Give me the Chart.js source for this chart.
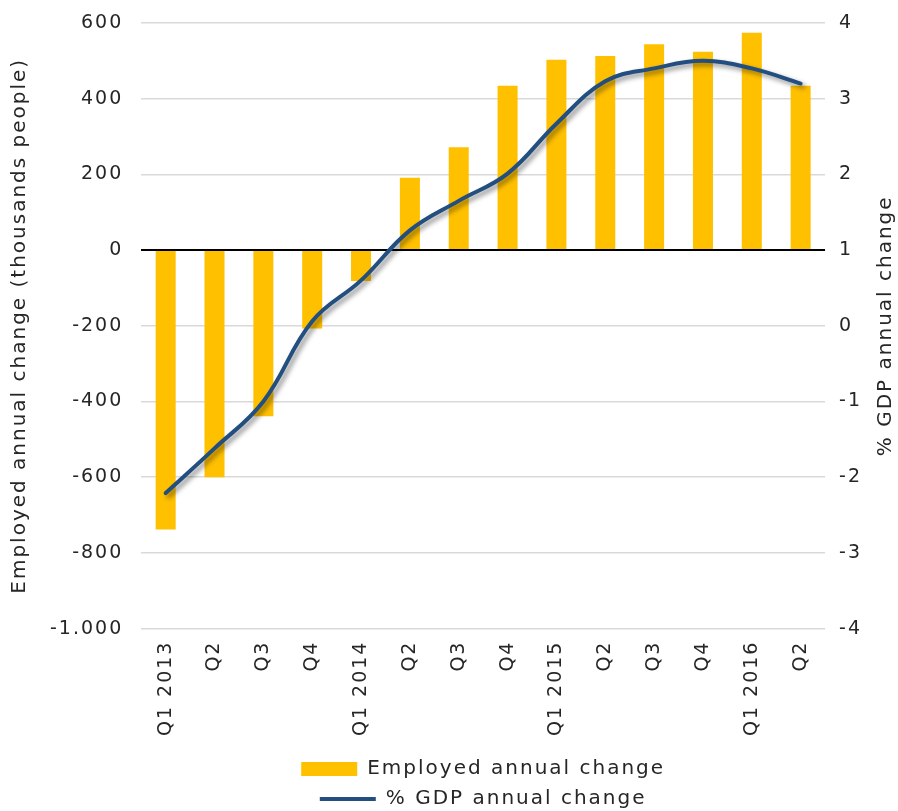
<!DOCTYPE html>
<html>
<head>
<meta charset="utf-8">
<script src="https://cdn.jsdelivr.net/npm/chart.js@4/dist/chart.umd.min.js"></script>
<style>
  html, body { margin: 0; padding: 0; background: #fff; }
  #wrap { width: 898px; height: 811px; }
</style>
</head>
<body>
<div id="wrap"><canvas id="emp-gdp-canv"></canvas></div>
<script>
const quarters = ['Q1 2013', 'Q2', 'Q3', 'Q4', 'Q1 2014', 'Q2', 'Q3', 'Q4',
                  'Q1 2015', 'Q2', 'Q3', 'Q4', 'Q1 2016', 'Q2'];
const employedChange = [-738, -600, -439, -207, -82, 191, 272, 434,
                        503, 513, 544, 524, 574, 434];
const gdpChange = [-2.21, -1.62, -1.0, 0.06, 0.6, 1.26, 1.65, 2.01,
                   2.67, 3.23, 3.40, 3.50, 3.40, 3.20];

const amber = '#FFC000';
const navy = '#224E80';
const fontFamily = "'DejaVu Sans', sans-serif";
const textColor = '#262626';
const spacing = '2px';

// Excel style thousands separator: -1.000
const fmtThousands = (v) => {
    const s = Math.abs(v).toString().replace(/\B(?=(\d{3})+(?!\d))/g, '.');
    return (v < 0 ? '-' : '') + s;
};

// widen the text a little, the original font is a wide geometric one
const wideText = {
    id: 'wideText',
    beforeUpdate(chart) { chart.ctx.letterSpacing = spacing; },
    beforeDraw(chart) { chart.ctx.letterSpacing = spacing; }
};

// soft drop shadow under the GDP line
const lineShadow = {
    id: 'lineShadow',
    beforeDatasetDraw(chart, args) {
        if (args.meta.type !== 'line') return;
        const ctx = chart.ctx;
        ctx.save();
        ctx.shadowColor = 'rgba(0,0,0,0.45)';
        ctx.shadowBlur = 5;
        ctx.shadowOffsetX = 3;
        ctx.shadowOffsetY = 3;
    },
    afterDatasetDraw(chart, args) {
        if (args.meta.type !== 'line') return;
        chart.ctx.restore();
    }
};

// right axis title reading bottom to top, like the left one
const rightTitle = {
    id: 'rightTitle',
    afterDraw(chart) {
        const ctx = chart.ctx;
        const area = chart.chartArea;
        ctx.save();
        ctx.translate(chart.width - 12, (area.top + area.bottom) / 2);
        ctx.rotate(-Math.PI / 2);
        ctx.font = '20px ' + fontFamily;
        ctx.fillStyle = textColor;
        ctx.textAlign = 'center';
        ctx.textBaseline = 'middle';
        ctx.fillText('% GDP annual change', 0, 0);
        ctx.restore();
    }
};

// keep the tick padding from pushing the plot down
const tightY = (scale) => {
    scale.paddingTop = 12;
    scale.paddingBottom = 12;
};

const data = {
    labels: quarters,
    datasets: [
        {
            type: 'bar',
            label: 'Employed annual change',
            data: employedChange,
            yAxisID: 'y',
            backgroundColor: amber,
            borderWidth: 0,
            pointStyle: 'rect',
            barPercentage: 0.41,
            categoryPercentage: 1,
            order: 1
        },
        {
            type: 'line',
            label: '% GDP annual change',
            data: gdpChange,
            yAxisID: 'y1',
            borderColor: navy,
            backgroundColor: navy,
            borderWidth: 4,
            borderCapStyle: 'round',
            pointStyle: 'line',
            pointRadius: 0,
            tension: 0.4,
            order: 0
        }
    ]
};

const config = {
    type: 'bar',
    data,
    options: {
        responsive: true,
        maintainAspectRatio: false,
        animation: false,
        layout: {
            padding: { left: 0, right: 22, top: 23, bottom: -8 }
        },
        scales: {
            x: {
                grid: { display: false, drawTicks: false },
                border: { display: false },
                ticks: {
                    color: textColor,
                    font: { size: 19, family: fontFamily },
                    minRotation: 90,
                    maxRotation: 90,
                    autoSkip: false,
                    padding: 12
                },
                afterFit: (scale) => { scale.height += 1; }
            },
            y: {
                position: 'left',
                min: -1000,
                max: 600,
                border: { display: false },
                grid: {
                    color: (c) => c.tick && c.tick.value === 0 ? '#000' : '#D9D9D9',
                    lineWidth: (c) => c.tick && c.tick.value === 0 ? 2 : 1.5,
                    drawTicks: false
                },
                ticks: {
                    stepSize: 200,
                    color: textColor,
                    padding: 18,
                    font: { size: 19, family: fontFamily },
                    callback: (v) => fmtThousands(v)
                },
                title: {
                    display: true,
                    text: 'Employed annual change (thousands people)',
                    color: textColor,
                    font: { size: 20, family: fontFamily },
                    padding: { top: 8, bottom: 0 }
                },
                afterFit: tightY
            },
            y1: {
                position: 'right',
                min: -4,
                max: 4,
                border: { display: false },
                grid: { drawOnChartArea: false, drawTicks: false },
                ticks: {
                    stepSize: 1,
                    color: textColor,
                    padding: 14,
                    font: { size: 19, family: fontFamily }
                },
                afterFit: tightY
            }
        },
        plugins: {
            legend: {
                position: 'bottom',
                fullSize: false,
                labels: {
                    usePointStyle: true,
                    pointStyleWidth: 56,
                    boxHeight: 14,
                    color: textColor,
                    padding: 10,
                    font: { size: 20, family: fontFamily },
                    sort: (a, b) => a.datasetIndex - b.datasetIndex
                }
            },
            tooltip: { enabled: false }
        }
    },
    plugins: [wideText, lineShadow, rightTitle]
};

var myChart = new Chart(document.getElementById('emp-gdp-canv'), config);
</script>
</body>
</html>
